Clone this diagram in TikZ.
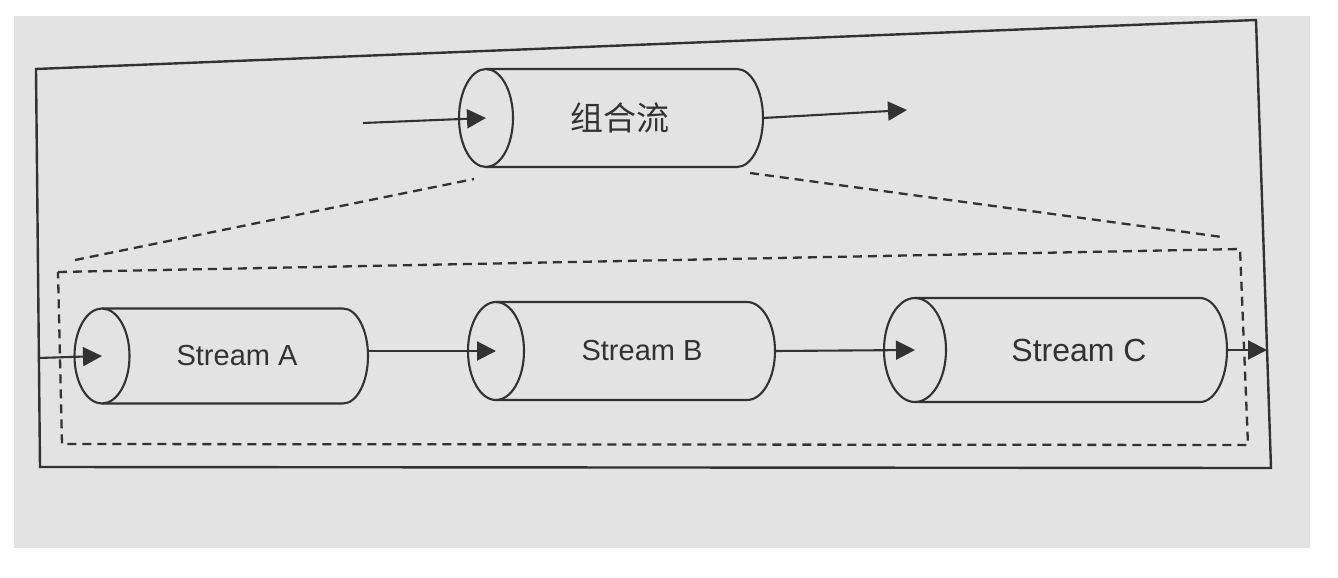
\documentclass[tikz,border=0pt]{standalone}
\usepackage{fontspec}
\setmainfont{Liberation Sans}
\newfontfamily\cjk{Noto Sans CJK SC}
\usetikzlibrary{arrows.meta}
\definecolor{paper}{RGB}{227,227,227}
\definecolor{ink}{RGB}{50,50,50}
\begin{document}
\begin{tikzpicture}[x=1pt,y=-1pt,
  line/.style={draw=ink,line width=2.1pt},
  arr/.style={line,-{Triangle[length=19pt,width=19pt]}},
  dashline/.style={draw=ink,line width=2.3pt,dash pattern=on 9pt off 6pt},
  body/.style={inner sep=0pt,outer sep=0pt,text=ink,font=\fontsize{29}{34}\selectfont},
]
\useasboundingbox (0,0) rectangle (1338,578);
\fill[white] (0,0) rectangle (1338,578);
\fill[paper] (14,16) rectangle (1310,548);

% outer frame and dashed group frame
\draw[line,line width=2.4pt] (36,69) -- (1256,20) -- (1271,468) -- (40,467) -- cycle;
\draw[dashline] (58,272) -- (1240,249) -- (1248,445) -- (62,444) -- cycle;

% cylinders (body nodes; west anchor = centre of the front ellipse)
\node[body,minimum width=251pt,minimum height=98pt] (T) at (611.5,118)
  {\cjk\fontsize{33}{38}\selectfont\hspace*{17pt}组合流};
\node[body,minimum width=241pt,minimum height=95pt] (A) at (222.5,356)
  {\hspace*{29pt}Stream A};
\node[body,minimum width=251pt,minimum height=98pt] (B) at (621.5,351)
  {\hspace*{41pt}Stream B};
\node[body,minimum width=285pt,minimum height=104pt,font=\fontsize{32}{38}\selectfont] (C) at (1057.5,350)
  {\hspace*{43pt}Stream C};

\foreach \n/\rl/\rr/\ry in {T/27/26/49, A/27.5/25/47.5, B/28/28/49, C/31/27/52} {
  \draw[line] (\n.north west) -- (\n.north east)
    arc[start angle=-90,end angle=90,x radius=\rr,y radius=\ry] -- (\n.south west);
  \draw[line] (\n.west) ellipse[x radius=\rl,y radius=\ry];
}

% cap points (right ends of the cylinders)
\coordinate (Tcap) at ([xshift=26pt]T.east);
\coordinate (Acap) at ([xshift=25pt]A.east);
\coordinate (Bcap) at ([xshift=28pt]B.east);
\coordinate (Ccap) at ([xshift=27pt]C.east);

% free ends
\coordinate (Tin) at (363,123);
\coordinate (Tout) at (907,110);
\coordinate (Ain) at (38,358);
\coordinate (Cout) at (1267,350);

% connectors
\draw[arr] (Tin) -- (T.west);
\draw[arr] (Tcap) -- (Tout);
\draw[arr] (Ain) -- (A.west);
\draw[arr] (Acap |- B.west) -- (B.west);
\draw[arr] (Bcap) -- (C.west);
\draw[arr] (Ccap) -- (Cout);

% dashed zoom lines from the combined stream to the group frame
\coordinate (dL) at (75,260);
\coordinate (dR) at (1222,237);
\draw[dashline] (dL) -- ([xshift=-12pt,yshift=-12pt]T.south west);
\draw[dashline] ([xshift=13pt,yshift=-6pt]T.south east) -- (dR);
\end{tikzpicture}
\end{document}
